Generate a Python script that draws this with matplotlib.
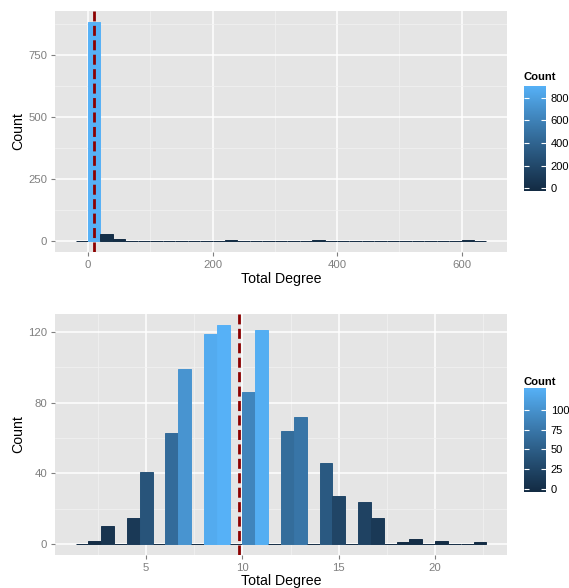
import numpy as np
import matplotlib
matplotlib.use("Agg")
import matplotlib.pyplot as plt
import matplotlib.colors as mcolors

plt.rcParams['font.family'] = ['Liberation Sans', 'DejaVu Sans']

# Верхний график: гистограмма полной степени (ширина корзины 20)
top_bin_start = -20
top_bin_width = 20
top_counts = [0, 882, 30, 8,
              2, 2, 2, 2, 2, 2, 2,
              0, 3,
              0, 0, 0, 0, 0, 0,
              3,
              0, 0, 0, 0, 0, 0, 0, 0, 0, 0, 0,
              3, 0]
top_xticks = [0, 200, 400, 600]
top_yticks = [0, 250, 500, 750]
top_cbar_ticks = [0, 200, 400, 600, 800]

# Нижний график: увеличенный фрагмент (ширина корзины 2/3)
bot_bin_start = 4 / 3
bot_bin_width = 2 / 3
bot_counts = [0, 2, 10, 0, 15, 41, 0, 63, 99, 0, 119, 124, 0, 86, 121, 0,
              64, 72, 0, 46, 27, 0, 24, 15, 0, 1, 3, 0, 2, 0, 0, 1]
bot_xticks = [5, 10, 15, 20]
bot_yticks = [0, 40, 80, 120]
bot_cbar_ticks = [0, 25, 50, 75, 100]

mean_degree = 9.8

LOW, HIGH = "#132B43", "#56B1F7"
W, H = 569, 588


# Градиент в пространстве Lab, как у ggplot
def to_lab(hexcol):
    rgb = np.array(mcolors.to_rgb(hexcol))
    lin = np.where(rgb <= 0.04045, rgb / 12.92, ((rgb + 0.055) / 1.055) ** 2.4)
    M = np.array([[0.4124, 0.3576, 0.1805], [0.2126, 0.7152, 0.0722], [0.0193, 0.1192, 0.9505]])
    t = (M @ lin) / np.array([0.95047, 1.0, 1.08883])
    f = np.where(t > 0.008856, np.cbrt(t), 7.787 * t + 16 / 116)
    return np.array([116 * f[1] - 16, 500 * (f[0] - f[1]), 200 * (f[1] - f[2])])


def from_lab(lab):
    L, a, b = lab
    fy = (L + 16) / 116
    f = np.array([fy + a / 500, fy, fy - b / 200])
    t = np.where(f ** 3 > 0.008856, f ** 3, (f - 16 / 116) / 7.787)
    xyz = t * np.array([0.95047, 1.0, 1.08883])
    Minv = np.array([[3.2406, -1.5372, -0.4986], [-0.9689, 1.8758, 0.0415], [0.0557, -0.2040, 1.0570]])
    lin = Minv @ xyz
    rgb = np.where(lin <= 0.0031308, 12.92 * lin, 1.055 * np.clip(lin, 0, None) ** (1 / 2.4) - 0.055)
    return np.clip(rgb, 0, 1)


lab_lo, lab_hi = to_lab(LOW), to_lab(HIGH)
cmap = mcolors.ListedColormap([from_lab(lab_lo + (lab_hi - lab_lo) * s) for s in np.linspace(0, 1, 256)])

fig = plt.figure(figsize=(W / 100, H / 100), dpi=100)


def px_axes(x0, y0, x1, y1):
    return fig.add_axes([x0 / W, 1 - y1 / H, (x1 - x0) / W, (y1 - y0) / H])


def panel(rect, start, width, counts, xticks, yticks, xminor, yminor, xlab_y):
    ax = px_axes(*rect)
    counts = np.array(counts)
    edges = start + width * np.arange(len(counts))
    cols = cmap(counts / counts.max())
    ax.bar(edges, counts, width=width, align='edge', color=cols, edgecolor=cols, linewidth=0.7, zorder=2)
    ax.axvline(mean_degree, color='#8B0000', lw=2.0, linestyle=(0, (3.6, 1.6)), zorder=3)

    ax.set_facecolor('#E5E5E5')
    for s in ax.spines.values():
        s.set_visible(False)
    ax.set_xticks(xticks)
    ax.set_yticks(yticks)
    ax.set_xticks(xminor, minor=True)
    ax.set_yticks(yminor, minor=True)
    # пределы ставим после тиков, иначе малые тики раздвигают ось
    lo, hi = edges[0], edges[-1] + width
    ax.set_xlim(lo - 0.05 * (hi - lo), hi + 0.05 * (hi - lo))
    ax.set_ylim(-0.05 * counts.max(), 1.05 * counts.max())
    ax.grid(True, which='major', color='white', lw=1.1, zorder=0)
    ax.grid(True, which='minor', color='#F2F2F2', lw=0.5, zorder=0)
    ax.set_axisbelow(True)
    ax.tick_params(which='major', length=3, width=0.8, color='#7F7F7F', labelcolor='#7F7F7F',
                   labelsize=8.2, pad=2.5)
    ax.tick_params(which='minor', length=0)
    ax.set_xlabel('Total Degree', fontsize=10.2, va='center')
    ax.set_ylabel('Count', fontsize=10.2, va='center')
    ax.xaxis.set_label_coords(0.5, (rect[3] - xlab_y) / (rect[3] - rect[1]))
    ax.yaxis.set_label_coords((18 - rect[0]) / (rect[2] - rect[0]), 0.5)
    return ax


def colorbar(rect, vmax, ticks, title_y):
    cax = px_axes(*rect)
    ext = vmax / 38
    grad = np.linspace(0, 1, 256).reshape(-1, 1)
    cax.imshow(grad, aspect='auto', cmap=cmap, origin='lower',
               extent=[0, 1, -ext, vmax + ext])
    for s in cax.spines.values():
        s.set_visible(False)
    cax.set_xticks([])
    cax.set_yticks(ticks)
    cax.set_xlim(0, 1)
    cax.set_ylim(-ext, vmax + ext)
    cax.tick_params(axis='y', left=True, right=True, labelleft=False, labelright=True,
                    direction='in', color='white', length=3.5, width=0.8,
                    labelcolor='black', labelsize=8, pad=3.4)
    fig.text(rect[0] / W, 1 - title_y / H, 'Count', fontsize=8.1, fontweight='bold',
             ha='left', va='center')


panel((55, 11, 507, 252), top_bin_start, top_bin_width, top_counts,
      top_xticks, top_yticks, [-100, 100, 300, 500], [125, 375, 625, 875], 278.5)
colorbar((524, 86, 546, 190.7), max(top_counts), top_cbar_ticks, 77)

panel((55, 314, 507, 555), bot_bin_start, bot_bin_width, bot_counts,
      bot_xticks, bot_yticks, [2.5, 7.5, 12.5, 17.5, 22.5], [20, 60, 100], 580.5)
colorbar((524, 388, 546, 491.7), max(bot_counts), bot_cbar_ticks, 381.7)

fig.savefig('out.png', dpi=100)
